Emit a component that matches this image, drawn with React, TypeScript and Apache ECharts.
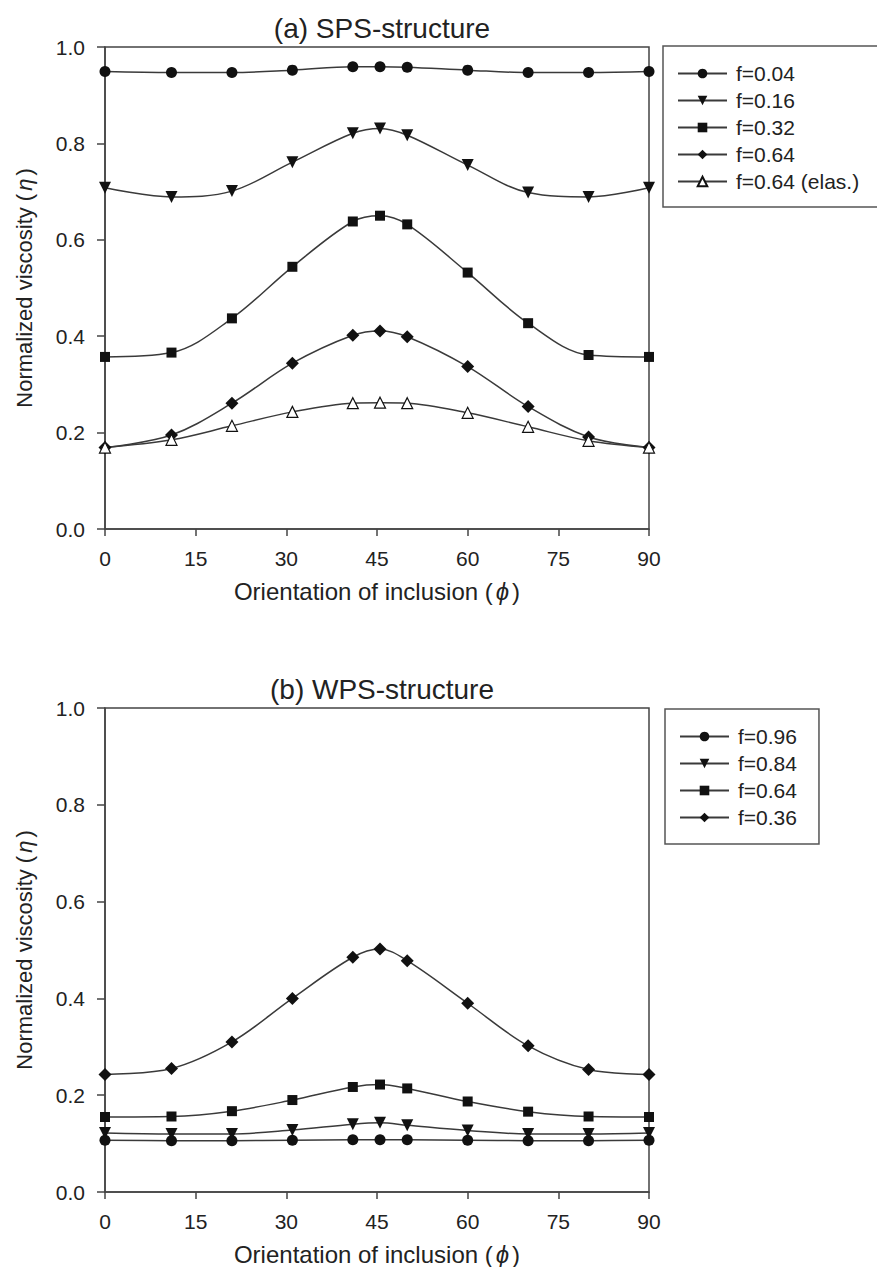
import React, { useEffect, useRef } from "react";
import * as echarts from "echarts";

// Orientation angles (deg)
const phi = [0, 11, 21, 31, 41, 45.5, 50, 60, 70, 80, 90];

// (a) SPS-structure
const spsNames = ["f=0.04", "f=0.16", "f=0.32", "f=0.64", "f=0.64 (elas.)"];
const sps004 = [0.949, 0.947, 0.947, 0.952, 0.959, 0.959, 0.958, 0.952, 0.947, 0.947, 0.949];
const sps016 = [0.708, 0.689, 0.701, 0.761, 0.821, 0.831, 0.817, 0.755, 0.698, 0.689, 0.708];
const sps032 = [0.357, 0.366, 0.437, 0.544, 0.638, 0.65, 0.632, 0.532, 0.427, 0.361, 0.357];
const sps064 = [0.169, 0.195, 0.261, 0.344, 0.402, 0.411, 0.399, 0.337, 0.254, 0.191, 0.169];
const sps064e = [0.169, 0.185, 0.214, 0.243, 0.261, 0.262, 0.261, 0.241, 0.212, 0.183, 0.169];

// (b) WPS-structure
const wpsNames = ["f=0.96", "f=0.84", "f=0.64", "f=0.36"];
const wps096 = [0.107, 0.106, 0.106, 0.107, 0.108, 0.108, 0.108, 0.107, 0.106, 0.106, 0.107];
const wps084 = [0.122, 0.12, 0.12, 0.128, 0.14, 0.143, 0.138, 0.127, 0.12, 0.12, 0.122];
const wps064 = [0.155, 0.156, 0.167, 0.19, 0.217, 0.222, 0.214, 0.187, 0.166, 0.156, 0.155];
const wps036 = [0.243, 0.255, 0.31, 0.4, 0.485, 0.502, 0.478, 0.39, 0.302, 0.253, 0.243];

const xTicks = { min: 0, max: 90, interval: 15 };
const yTicks = { min: 0, max: 1, interval: 0.2 };

const FONT = "'Liberation Sans', Arial, Helvetica, sans-serif";
const INK = "#222";
const LINE = "#3a3a3a";

type Mk = { symbol: string; size: number; rotate?: number; hollow?: boolean };
const markers: Mk[] = [
  { symbol: "circle", size: 11 },
  { symbol: "triangle", size: 12, rotate: 180 },
  { symbol: "rect", size: 10 },
  { symbol: "diamond", size: 13 },
  { symbol: "triangle", size: 11, hollow: true },
];

function mkSeries(name: string, vals: number[], mk: Mk, idx: number) {
  return {
    type: "line",
    name,
    xAxisIndex: idx,
    yAxisIndex: idx,
    data: phi.map((x, i) => [x, vals[i]]),
    smooth: 0.35,
    symbol: mk.symbol,
    symbolSize: mk.size,
    symbolRotate: mk.rotate || 0,
    showSymbol: true,
    lineStyle: { color: LINE, width: 1.5 },
    itemStyle: mk.hollow
      ? { color: "#ffffff", borderColor: "#111", borderWidth: 1.2 }
      : { color: "#111", borderColor: "#111", borderWidth: 0 },
    emphasis: { disabled: true },
    z: 3,
  };
}

const grids = [
  { left: 105, width: 544, top: 47, height: 482 },
  { left: 105, width: 544, top: 708, height: 485 },
];

function xAxisFor(i: number) {
  return {
    type: "value",
    gridIndex: i,
    ...xTicks,
    name: "Orientation of inclusion ({i|\u03D5})",
    nameLocation: "middle",
    nameGap: 50,
    nameTextStyle: {
      fontFamily: FONT,
      fontSize: 24,
      color: INK,
      rich: { i: { fontFamily: FONT, fontSize: 24, fontStyle: "italic", color: INK, padding: [0, 3, 0, 3] } },
    },
    axisLine: { show: true, onZero: false, lineStyle: { color: "#444", width: 1.5 } },
    axisTick: { show: true, inside: false, length: 7, lineStyle: { color: "#444", width: 1.5 } },
    axisLabel: { margin: 19, fontFamily: FONT, fontSize: 21, color: INK },
    splitLine: { show: false },
  };
}

function yAxisFor(i: number) {
  return {
    type: "value",
    gridIndex: i,
    ...yTicks,
    name: "Normalized viscosity ({i|\u03B7})",
    nameLocation: "middle",
    nameGap: 70,
    nameTextStyle: {
      fontFamily: FONT,
      fontSize: 22,
      color: INK,
      rich: { i: { fontFamily: FONT, fontSize: 22, fontStyle: "italic", color: INK, padding: [0, 3, 0, 3] } },
    },
    axisLine: { show: true, onZero: false, lineStyle: { color: "#444", width: 1.5 } },
    axisTick: { show: true, inside: false, length: 8, lineStyle: { color: "#444", width: 1.5 } },
    axisLabel: {
      margin: 20,
      fontFamily: FONT,
      fontSize: 21,
      color: INK,
      formatter: (v: number) => v.toFixed(1),
    },
    splitLine: { show: false },
  };
}

export default function App() {
  const ref = useRef<HTMLDivElement>(null);
  useEffect(() => {
    if (!ref.current) return;
    const chart = echarts.init(ref.current, undefined, { renderer: "svg" });
    const spsVals = [sps004, sps016, sps032, sps064, sps064e];
    const wpsVals = [wps096, wps084, wps064, wps036];
    const series: any[] = [];
    spsVals.forEach((v, k) => series.push(mkSeries("a:" + spsNames[k], v, markers[k], 0)));
    wpsVals.forEach((v, k) => series.push(mkSeries("b:" + wpsNames[k], v, markers[k], 1)));

    const legendBase = {
      orient: "vertical",
      itemWidth: 49,
      itemHeight: 12,
      itemGap: 6,
      backgroundColor: "#fff",
      borderColor: "#555",
      borderWidth: 1.5,
      borderRadius: 0,
      selectedMode: false,
      formatter: (n: string) => n.slice(2),
      textStyle: { fontFamily: FONT, fontSize: 21, color: INK, padding: [0, 0, 0, 4] },
      inactiveColor: "#111",
    };

    chart.setOption({
      animation: false,
      backgroundColor: "#fff",
      title: [
        {
          text: "(a) SPS-structure",
          left: 377,
          top: 9,
          textAlign: "center",
          textStyle: { fontFamily: FONT, fontSize: 28, fontWeight: "normal", color: INK },
        },
        {
          text: "(b) WPS-structure",
          left: 377,
          top: 670,
          textAlign: "center",
          textStyle: { fontFamily: FONT, fontSize: 28, fontWeight: "normal", color: INK },
        },
      ],
      grid: grids.map((g) => ({ ...g, show: true, borderColor: "#444", borderWidth: 1.5, backgroundColor: "transparent" })),
      xAxis: [xAxisFor(0), xAxisFor(1)],
      yAxis: [yAxisFor(0), yAxisFor(1)],
      legend: [
        {
          ...legendBase,
          left: 663,
          top: 46,
          padding: [17, 24, 15, 14],
          data: spsNames.map((n) => "a:" + n),
        },
        {
          ...legendBase,
          left: 665,
          top: 709,
          padding: [17, 22, 16, 14],
          data: wpsNames.map((n) => "b:" + n),
        },
      ],
      series,
    });
    return () => chart.dispose();
  }, []);
  return (
    <div
      ref={ref}
      style={{ position: "fixed", left: 0, top: 0, width: 877, height: 1267, background: "#fff" }}
    />
  );
}
